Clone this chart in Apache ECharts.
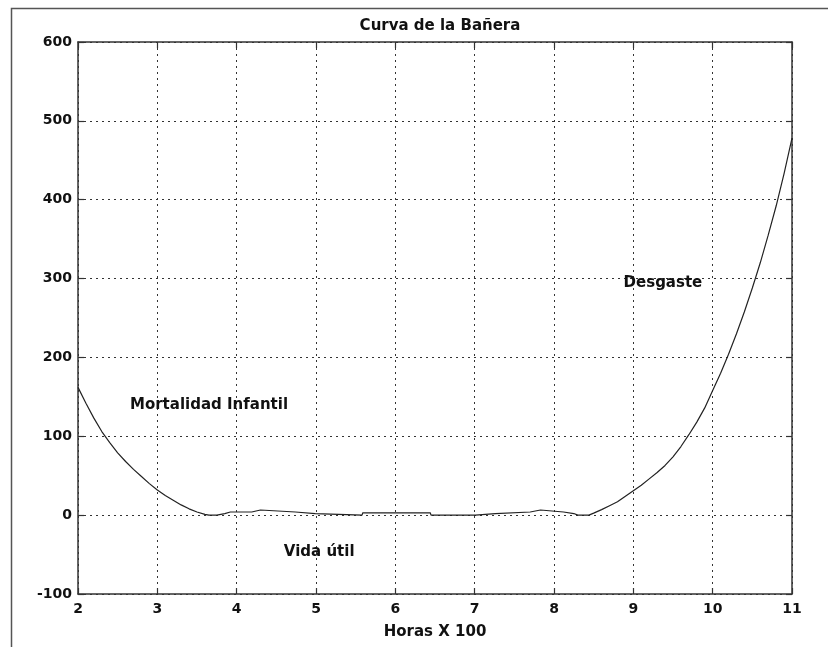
<!DOCTYPE html>
<html>
<head>
<meta charset="utf-8">
<script src="https://cdn.jsdelivr.net/npm/echarts@6/dist/echarts.min.js"></script>
<style>
html,body{margin:0;padding:0;background:#fff;}
#chart{width:828px;height:647px;}
</style>
</head>
<body>
<div id="chart"></div>
<script>
// Curve samples (Horas X 100, failure rate)
const hours = [2.00, 2.10, 2.20, 2.30, 2.40, 2.50, 2.60, 2.70, 2.80, 2.90, 3.00, 3.10, 3.20, 3.30,
  3.40, 3.50, 3.60, 3.65, 3.75, 3.85, 3.92,
  4.19, 4.20, 4.30, 4.31, 4.74, 4.75, 4.99, 5.00, 5.58, 5.59, 6.44, 6.45, 7.01, 7.02, 7.26, 7.27,
  7.70, 7.71, 7.83, 7.84, 8.12, 8.13, 8.25, 8.30, 8.44,
  8.50, 8.60, 8.70, 8.80, 8.90, 9.00, 9.10, 9.20, 9.30, 9.40, 9.50, 9.60, 9.70, 9.80, 9.90,
  10.00, 10.10, 10.20, 10.30, 10.40, 10.50, 10.60, 10.70, 10.80, 10.90, 11.00];
const rate = [162, 142, 123, 106, 92, 79, 68, 58, 49, 40, 32, 25, 19, 13,
  8, 4, 1, 0, 0, 2, 4,
  4, 6.5, 6.5, 4, 4, 2, 2, 0, 0, 3, 3, 0, 0, 2, 2, 4,
  4, 6.5, 6.5, 4, 4, 2, 2, 0, 0,
  2.5, 7, 12, 17, 24, 31, 38, 46, 54, 63, 74, 87, 102, 118, 136,
  158, 180, 204, 230, 258, 288, 320, 355, 392, 433, 478];

// Axis ticks
const xTicks = [2, 3, 4, 5, 6, 7, 8, 9, 10, 11];
const yTicks = [-100, 0, 100, 200, 300, 400, 500, 600];

// Text annotations (left edge x, centre y, text)
const annoX = [2.655, 8.877, 4.595];
const annoY = [139.5, 294.5, -46.4];
const annoText = ['Mortalidad Infantil', 'Desgaste', 'Vida útil'];

const titleText = 'Curva de la Bañera';
const xName = 'Horas X 100';

const FONT = 'DejaVu Sans';
const TXT = '#111';
const gridLine = {show: true, lineStyle: {color: '#333', width: 1, type: [2, 4]}};
const axisLineStyle = {show: true, onZero: false, lineStyle: {color: '#333', width: 1.5}};
const tick = {show: true, inside: true, length: 6, lineStyle: {color: '#333', width: 1.2}};

const frame = {
  type: 'polyline', silent: true,
  shape: {points: [[11.5, 647], [11.5, 8.5], [828, 8.5]]},
  style: {stroke: '#555', lineWidth: 1.5, fill: null}
};

const chart = echarts.init(document.getElementById('chart'), null, {renderer: 'canvas'});
chart.setOption({
  backgroundColor: '#fff',
  animation: false,
  title: {
    text: titleText, left: 435, top: 14, textAlign: 'center',
    textStyle: {fontFamily: FONT, fontSize: 15, fontWeight: 'bold', color: TXT}
  },
  graphic: [frame],
  grid: {left: 78, right: 36, top: 42, bottom: 53, containLabel: false},
  xAxis: [{
    type: 'value', min: xTicks[0], max: xTicks[xTicks.length - 1], interval: 1,
    position: 'bottom',
    axisLine: axisLineStyle, axisTick: tick, splitLine: gridLine,
    axisLabel: {margin: 8, fontFamily: FONT, fontSize: 14, fontWeight: 'bold', color: TXT},
    name: xName, nameLocation: 'middle', nameGap: 31,
    nameTextStyle: {fontFamily: FONT, fontSize: 15, fontWeight: 'bold', color: TXT}
  }, {
    type: 'value', min: xTicks[0], max: xTicks[xTicks.length - 1], interval: 1,
    position: 'top',
    axisLine: axisLineStyle, axisTick: tick, splitLine: {show: false},
    axisLabel: {show: false}
  }],
  yAxis: [{
    type: 'value', min: yTicks[0], max: yTicks[yTicks.length - 1], interval: 100,
    position: 'left',
    axisLine: axisLineStyle, axisTick: tick, splitLine: gridLine,
    axisLabel: {margin: 6, fontFamily: FONT, fontSize: 14, fontWeight: 'bold', color: TXT}
  }, {
    type: 'value', min: yTicks[0], max: yTicks[yTicks.length - 1], interval: 100,
    position: 'right',
    axisLine: axisLineStyle, axisTick: tick, splitLine: {show: false},
    axisLabel: {show: false}
  }],
  series: [{
    type: 'line',
    xAxisIndex: 0, yAxisIndex: 0,
    data: hours.map((h, i) => [h, rate[i]]),
    showSymbol: false, symbol: 'none', smooth: false,
    lineStyle: {color: '#222', width: 1.2},
    z: 5
  }]
});

// Place annotation texts through the chart's own scales
const annoGraphics = annoText.map((t, i) => {
  const p = chart.convertToPixel({xAxisIndex: 0, yAxisIndex: 0}, [annoX[i], annoY[i]]);
  return {
    type: 'text', silent: true, z: 10,
    x: p[0], y: p[1],
    style: {text: t, fill: TXT, font: 'bold 15px "DejaVu Sans"',
      textAlign: 'left', textVerticalAlign: 'middle', verticalAlign: 'middle'}
  };
});
chart.setOption({graphic: [frame].concat(annoGraphics)});
</script>
</body>
</html>
